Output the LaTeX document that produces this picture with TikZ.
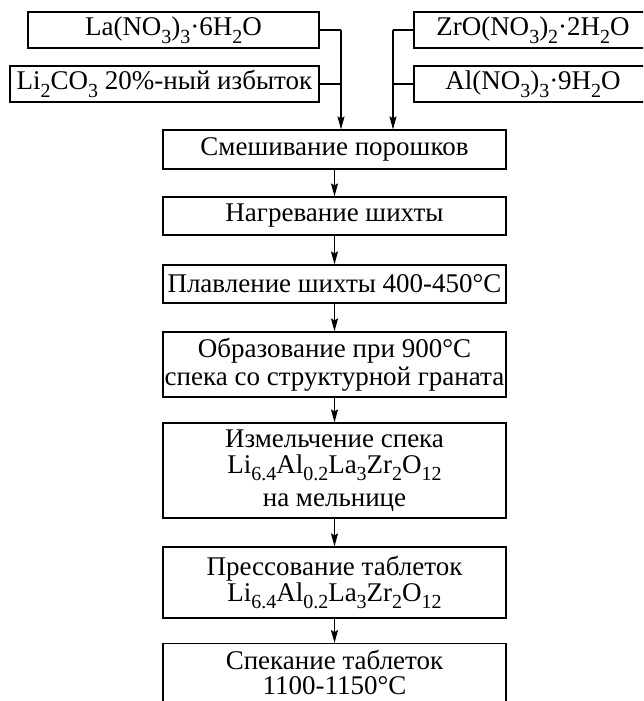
\documentclass[tikz,border=0pt]{standalone}
\usepackage{fontspec}
\setmainfont{Liberation Serif}
\usetikzlibrary{arrows.meta}
\newcommand\sbs[1]{\raisebox{-7.5pt}{\fontsize{20}{20}\selectfont #1}}
\begin{document}
\begin{tikzpicture}[x=1pt,y=-1pt,
  box/.style={draw,line width=1.2pt,inner sep=0pt,align=center,
    font=\fontsize{27}{26}\selectfont},
  link/.style={line width=1.2pt},
  arr/.style={line width=1.2pt,-{Stealth[length=13pt,width=7pt,inset=2pt]}}]
\clip (0,0) rectangle (643,701);
\fill[white] (0,0) rectangle (643,701);
% input boxes
\node[box,minimum width=291pt,minimum height=36pt] (la) at (173.5,30) {La(NO\sbs{3})\sbs{3}·6H\sbs{2}O};
\node[box,minimum width=309pt,minimum height=36pt] (li) at (164.5,84) {Li\sbs{2}CO\sbs{3} 20\%-ный избыток};
\node[box,minimum width=238pt,minimum height=36pt] (zr) at (533,30) {ZrO(NO\sbs{3})\sbs{2}·2H\sbs{2}O};
\node[box,minimum width=238pt,minimum height=36pt] (al) at (533,84) {Al(NO\sbs{3})\sbs{3}·9H\sbs{2}O};
% process boxes
\node[box,minimum width=343pt,minimum height=39pt] (mix) at (334.5,149.5) {Смешивание порошков};
\node[box,minimum width=343pt,minimum height=38pt] (heat) at (334.5,216) {Нагревание шихты};
\node[box,minimum width=343pt,minimum height=38pt] (melt) at (334.5,284) {Плавление шихты 400-450°C};
\node[box,minimum width=343pt,minimum height=65pt] (form) at (334.5,364.5) {Образование при 900°C\\[2pt]спека со структурной граната};
\node[box,minimum width=343pt,minimum height=95pt] (grind) at (334.5,470.5) {Измельчение спека\\Li\sbs{6.4}Al\sbs{0.2}La\sbs{3}Zr\sbs{2}O\sbs{12}\\[7pt]на мельнице};
\node[box,minimum width=343pt,minimum height=71pt] (press) at (334.5,582.5) {Прессование таблеток\\Li\sbs{6.4}Al\sbs{0.2}La\sbs{3}Zr\sbs{2}O\sbs{12}};
\node[box,minimum width=343pt,minimum height=100pt,anchor=north] (sinter) at (334.5,643) {};
\node[font=\fontsize{27}{25}\selectfont,align=center,anchor=base,inner sep=0pt] (sintert) at (334.5,694) {Спекание таблеток\\1100-1150°C};
% joins
\coordinate (jl) at (341,30);
\coordinate (jr) at (393,30);
\draw[link] (la.east) -- (jl);
\draw[link] (li.east) -- (jl |- li.east);
\draw[link] (zr.west) -- (jr);
\draw[link] (al.west) -- (jr |- al.west);
\draw[arr] (jl) -- (jl |- mix.north);
\draw[arr] (jr) -- (jr |- mix.north);
\draw[arr] (mix) -- (heat);
\draw[arr] (heat) -- (melt);
\draw[arr] (melt) -- (form);
\draw[arr] (form) -- (grind);
\draw[arr] (grind) -- (press);
\draw[arr] (press.south) -- (sinter.north);
\end{tikzpicture}
\end{document}
